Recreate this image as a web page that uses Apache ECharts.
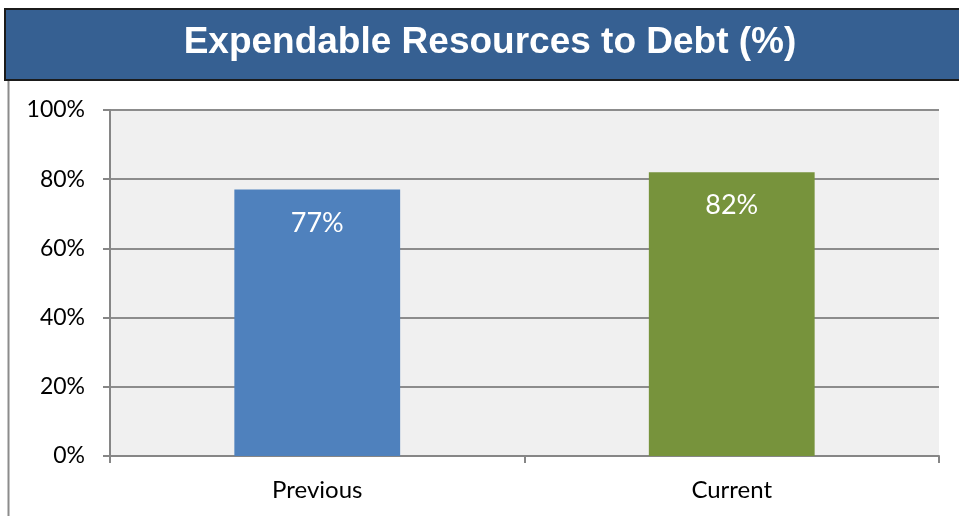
<!DOCTYPE html>
<html><head><meta charset="utf-8">
<script src="https://cdn.jsdelivr.net/npm/echarts@6/dist/echarts.min.js"></script>
<style>html,body{margin:0;padding:0;background:#fff}#c{width:959px;height:516px}</style>
</head><body><div id="c"></div>
<script>
const titleText = 'Expendable Resources to Debt (%)';
const categories = ['Previous', 'Current'];
const values = [77, 82];
const barColors = ['#4F81BD', '#77933C'];
const yTicks = [0, 20, 40, 60, 80, 100];

const chart = echarts.init(document.getElementById('c'), null, {renderer: 'canvas'});
chart.setOption({
  animation: false,
  backgroundColor: '#ffffff',
  graphic: [
    {type: 'line', shape: {x1: 8.5, y1: 80, x2: 8.5, y2: 516}, style: {stroke: '#8c8c8c', lineWidth: 2}, z: 1},
    {type: 'rect', shape: {x: 5, y: 9, width: 960, height: 71}, style: {fill: '#366092', stroke: '#1b1b1b', lineWidth: 2}, z: 2},
    {type: 'text', x: 490, y: 43, style: {text: titleText, fill: '#ffffff', font: 'bold 37px "Liberation Sans", Arial, sans-serif', textAlign: 'center', textVerticalAlign: 'middle'}, z: 3}
  ],
  grid: {left: 110, right: 20, top: 110, bottom: 60, show: true, backgroundColor: '#F0F0F0', borderWidth: 0},
  xAxis: {
    type: 'category', data: categories,
    axisLine: {lineStyle: {color: '#868686', width: 2}},
    axisTick: {show: true, length: 7, alignWithLabel: false, lineStyle: {color: '#868686', width: 2}},
    axisLabel: {color: '#000', fontSize: 24, fontFamily: 'Lato, "Noto Sans", sans-serif', margin: 22}
  },
  yAxis: {
    type: 'value', min: 0, max: 100, interval: 20,
    axisLine: {show: true, lineStyle: {color: '#868686', width: 2}},
    axisTick: {show: true, length: 7, lineStyle: {color: '#868686', width: 2}},
    splitLine: {lineStyle: {color: '#8c8c8c', width: 2}},
    axisLabel: {color: '#000', fontSize: 23, fontFamily: 'Lato, "Noto Sans", sans-serif', margin: 25,
      formatter: v => yTicks.includes(v) ? v + '%' : ''}
  },
  series: [{
    type: 'bar', barWidth: '40%',
    data: values.map((v, i) => ({value: v, itemStyle: {color: barColors[i]}})),
    label: {show: true, position: 'insideTop', distance: 20, color: '#fff', fontSize: 27,
      fontFamily: 'Lato, "Noto Sans", sans-serif', formatter: p => p.value + '%'}
  }]
});
</script></body></html>
